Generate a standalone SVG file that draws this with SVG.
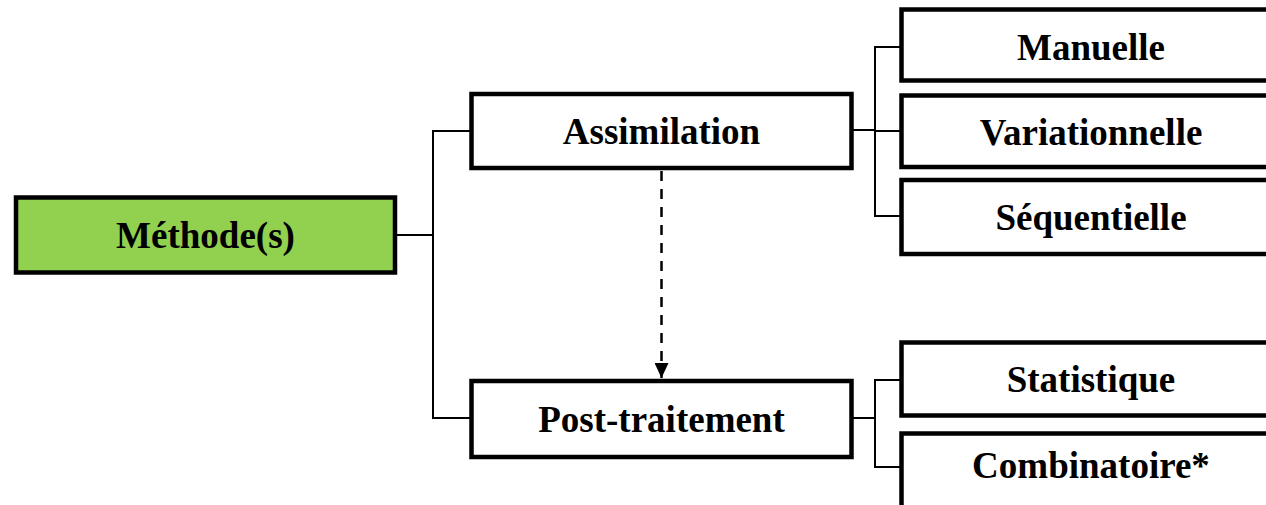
<svg xmlns="http://www.w3.org/2000/svg" width="1266" height="505" viewBox="0 0 1266 505">
  <style>
    .box { fill: #ffffff; stroke: #000000; stroke-width: 4.5; }
    .root { fill: #92d050; stroke: #000000; stroke-width: 4.5; }
    .lbl { font-family: "Liberation Serif", "Times New Roman", serif; font-weight: bold; font-size: 37px; fill: #000000; text-anchor: middle; }
    .link { fill: none; stroke: #000000; stroke-width: 2; }
    .dash { fill: none; stroke: #000000; stroke-width: 2.5; stroke-dasharray: 10 8; }
  </style>
  <defs>
    <marker id="arrow" markerUnits="userSpaceOnUse" markerWidth="16" markerHeight="14" refX="15" refY="7" orient="auto">
      <path d="M0,0 L15,7 L0,14 Z" fill="#000000"/>
    </marker>
  </defs>

  <rect width="1266" height="505" fill="#ffffff"/>

  <!-- tree connectors -->
  <g id="connectors">
    <polyline class="link" points="395,235 433,235"/>
    <polyline class="link" points="471,131 433,131 433,418 471,418"/>
    <polyline class="link" points="851,130 875,130"/>
    <polyline class="link" points="901,47 875,47 875,216 901,216"/>
    <polyline class="link" points="875,131 901,131"/>
    <polyline class="link" points="851,418 875,418"/>
    <polyline class="link" points="901,380 875,380 875,467 901,467"/>
    <line class="dash" x1="661.5" y1="171" x2="661.5" y2="378" marker-end="url(#arrow)"/>
  </g>

  <g id="methodes">
    <rect class="root" x="16" y="197.5" width="379" height="75"/>
    <text class="lbl" x="205.5" y="248">Méthode(s)</text>
  </g>

  <g id="assimilation">
    <rect class="box" x="471.5" y="94" width="380" height="74"/>
    <text class="lbl" x="661.5" y="144">Assimilation</text>
  </g>

  <g id="post-traitement">
    <rect class="box" x="471.5" y="381" width="380" height="76"/>
    <text class="lbl" x="661.5" y="432">Post-traitement</text>
  </g>

  <g id="manuelle">
    <rect class="box" x="901.5" y="9.5" width="380" height="71"/>
    <text class="lbl" x="1091" y="60">Manuelle</text>
  </g>

  <g id="variationnelle">
    <rect class="box" x="901.5" y="95.5" width="380" height="71.5"/>
    <text class="lbl" x="1091" y="145">Variationnelle</text>
  </g>

  <g id="sequentielle">
    <rect class="box" x="901.5" y="180" width="380" height="74"/>
    <text class="lbl" x="1091" y="230">Séquentielle</text>
  </g>

  <g id="statistique">
    <rect class="box" x="901.5" y="342.5" width="380" height="73"/>
    <text class="lbl" x="1091" y="392">Statistique</text>
  </g>

  <g id="combinatoire">
    <rect class="box" x="901.5" y="433.5" width="380" height="90"/>
    <text class="lbl" x="1091" y="478">Combinatoire*</text>
  </g>
</svg>
